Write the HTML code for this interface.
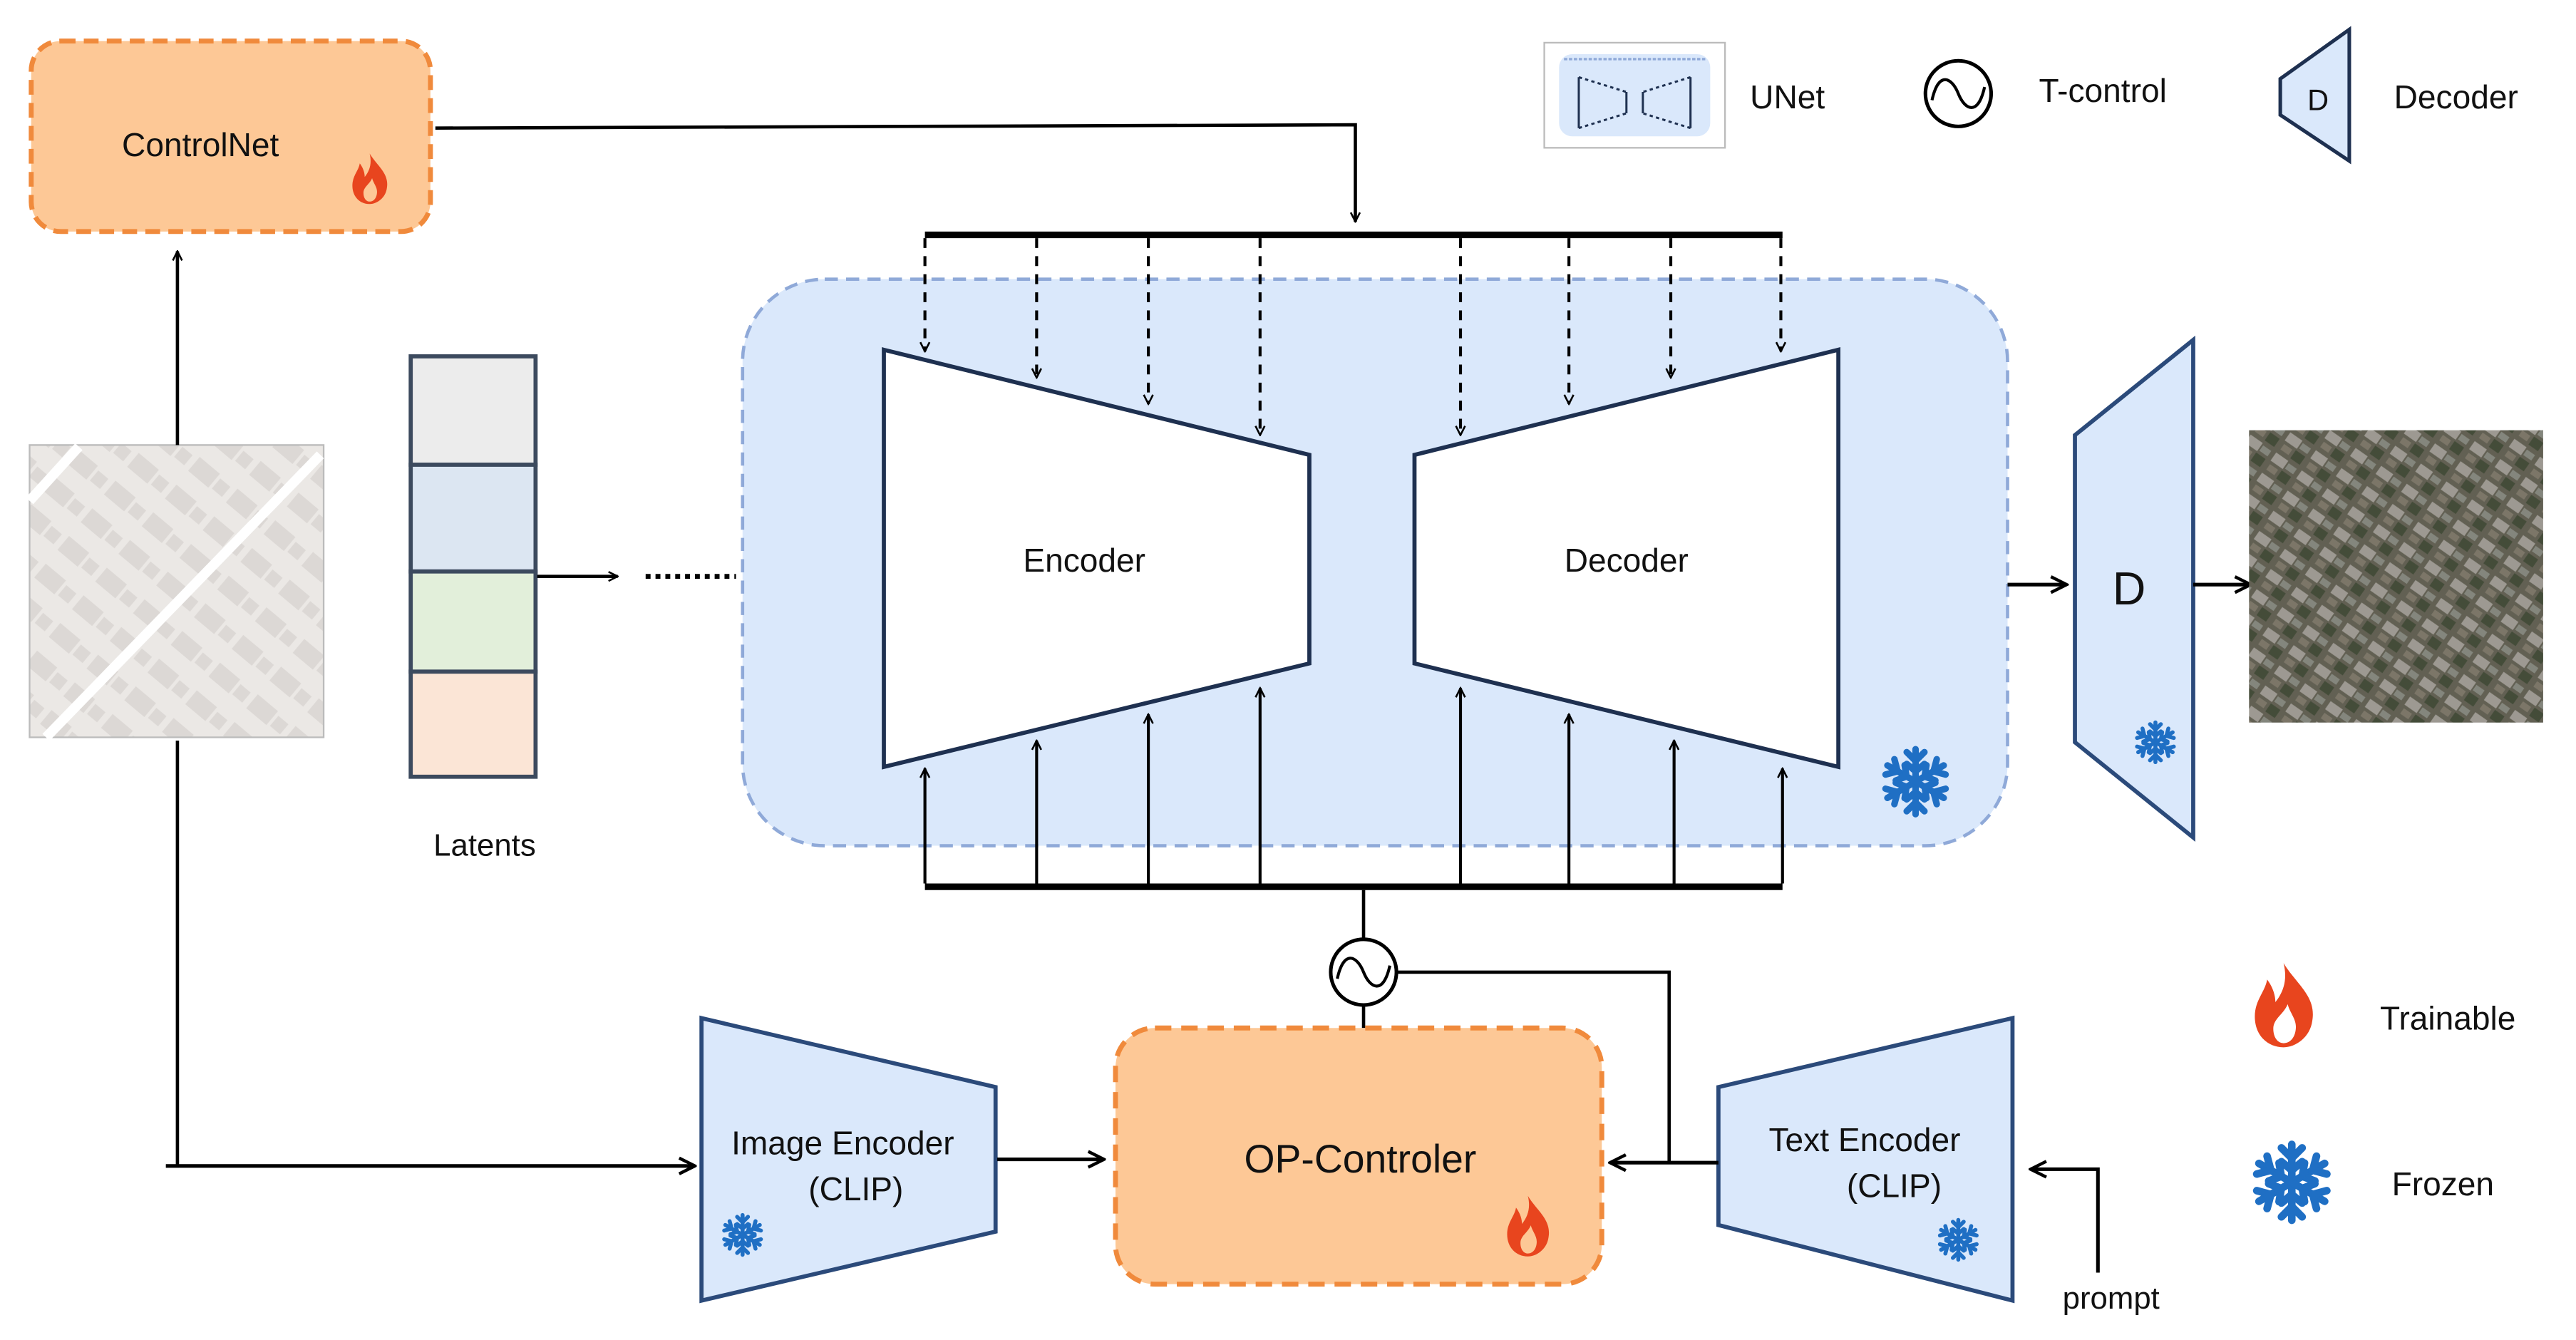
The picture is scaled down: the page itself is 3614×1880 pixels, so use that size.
<!DOCTYPE html>
<html><head><meta charset="utf-8"><style>
html,body{margin:0;padding:0;background:#fff;}
svg{display:block;}
text{font-family:"Liberation Sans",sans-serif;fill:#111;}
</style></head><body>
<svg width="3614" height="1880" viewBox="0 0 1568 816" preserveAspectRatio="none" xmlns="http://www.w3.org/2000/svg">
<defs>
<marker id="ah" viewBox="0 0 10 10" refX="9" refY="5" markerWidth="7" markerHeight="7" orient="auto-start-reverse" markerUnits="userSpaceOnUse">
<path d="M1,1 L9,5 L1,9" fill="none" stroke="#000" stroke-width="1.6"/></marker>
<marker id="ah2" viewBox="0 0 10 10" refX="9" refY="5" markerWidth="12" markerHeight="12" orient="auto" markerUnits="userSpaceOnUse">
<path d="M1,1 L9,5 L1,9" fill="none" stroke="#000" stroke-width="1.6"/></marker>
<pattern id="bld" width="30" height="22" patternUnits="userSpaceOnUse" patternTransform="rotate(40)">
<rect width="30" height="22" fill="#ebe8e5"/>
<rect x="2" y="3" width="16" height="11" fill="#dcd8d5"/>
<rect x="20" y="5" width="8" height="8" fill="#dcd8d5"/>
</pattern>
<pattern id="aer" width="19" height="15" patternUnits="userSpaceOnUse" patternTransform="rotate(35)">
<rect width="19" height="15" fill="#5f5e52"/>
<rect x="1" y="1" width="9" height="6" fill="#a9a6a0"/>
<rect x="11" y="2" width="6" height="4" fill="#8a8e86"/>
<rect x="10" y="8" width="7" height="6" fill="#3a4531"/>
<rect x="2" y="9" width="6" height="4" fill="#807a6c"/>
</pattern>
<g id="snow" stroke="#1f6fc4" stroke-width="2.2" fill="none" stroke-linecap="round">
<g id="arm"><line x1="0" y1="-11" x2="0" y2="11"/><path d="M-3,-10 L0,-7 L3,-10 M-3,10 L0,7 L3,10 M-3,-6 L0,-3.5 L3,-6 M-3,6 L0,3.5 L3,6"/></g>
<use href="#arm" transform="rotate(60)"/><use href="#arm" transform="rotate(120)"/>
</g>
<path id="flame" d="M0,-22 C6,-12 16,-6 14,6 C13,14 6,19 0,19 C-8,19 -14,13 -14,4 C-14,-4 -9,-8 -8,-14 C-5,-10 -4,-6 -4,-3 C0,-8 2,-14 0,-22 Z M0,17 C4,17 6,13 6,9 C6,5 3,2 2,-2 C0,3 -5,5 -5,10 C-5,14 -3,17 0,17 Z" fill="#e8451e" fill-rule="evenodd"/>
</defs>

<!-- ControlNet -->
<rect x="19" y="25" width="243" height="116" rx="18" fill="#fdc896" stroke="#f08a3c" stroke-width="3" stroke-dasharray="9,5"/>
<text x="122" y="95" font-size="20" text-anchor="middle">ControlNet</text>
<use href="#flame" transform="translate(225,110) scale(0.75)"/>
<polyline points="265,78 825,76 825,135" fill="none" stroke="#000" stroke-width="2" marker-end="url(#ah)"/>

<!-- UNet region -->
<rect x="452" y="170" width="770" height="345" rx="50" fill="#dae8fb" stroke="#8fa9d8" stroke-width="2" stroke-dasharray="8,5"/>
<polygon points="538,213 797,277 797,404 538,467" fill="#fff" stroke="#1e3050" stroke-width="2.5"/>
<polygon points="861,277 1119,213 1119,467 861,404" fill="#fff" stroke="#1e3050" stroke-width="2.5"/>
<text x="660" y="348" font-size="20" text-anchor="middle">Encoder</text>
<text x="990" y="348" font-size="20" text-anchor="middle">Decoder</text>
<use href="#snow" transform="translate(1166,476) scale(1.8)"/>

<line x1="563" y1="143" x2="1085" y2="143" stroke="#000" stroke-width="4"/>
<g stroke="#000" stroke-width="1.8" stroke-dasharray="6,5" fill="none">
<line x1="563" y1="145" x2="563" y2="214" marker-end="url(#ah)"/>
<line x1="631" y1="145" x2="631" y2="230" marker-end="url(#ah)"/>
<line x1="699" y1="145" x2="699" y2="246" marker-end="url(#ah)"/>
<line x1="767" y1="145" x2="767" y2="265" marker-end="url(#ah)"/>
<line x1="889" y1="145" x2="889" y2="265" marker-end="url(#ah)"/>
<line x1="955" y1="145" x2="955" y2="246" marker-end="url(#ah)"/>
<line x1="1017" y1="145" x2="1017" y2="230" marker-end="url(#ah)"/>
<line x1="1084" y1="145" x2="1084" y2="214" marker-end="url(#ah)"/>
</g>
<line x1="563" y1="540" x2="1085" y2="540" stroke="#000" stroke-width="4"/>
<g stroke="#000" stroke-width="1.8" fill="none">
<line x1="563" y1="538" x2="563" y2="468" marker-end="url(#ah)"/>
<line x1="631" y1="538" x2="631" y2="451" marker-end="url(#ah)"/>
<line x1="699" y1="538" x2="699" y2="435" marker-end="url(#ah)"/>
<line x1="767" y1="538" x2="767" y2="419" marker-end="url(#ah)"/>
<line x1="889" y1="538" x2="889" y2="419" marker-end="url(#ah)"/>
<line x1="955" y1="538" x2="955" y2="435" marker-end="url(#ah)"/>
<line x1="1019" y1="538" x2="1019" y2="451" marker-end="url(#ah)"/>
<line x1="1085" y1="538" x2="1085" y2="468" marker-end="url(#ah)"/>
</g>

<!-- T-control -->
<line x1="830" y1="542" x2="830" y2="572" stroke="#000" stroke-width="2"/>
<line x1="830" y1="612" x2="830" y2="626" stroke="#000" stroke-width="2"/>
<circle cx="830" cy="592" r="20" fill="#fff" stroke="#000" stroke-width="2.2"/>
<path d="M814,596 C818,578 826,582 830,592 C834,602 842,606 846,588" fill="none" stroke="#000" stroke-width="1.8"/>
<polyline points="850,592 1016,592 1016,708" fill="none" stroke="#000" stroke-width="2"/>

<!-- Latents -->
<g stroke="#3c4a5e" stroke-width="2.5">
<rect x="250" y="217" width="76" height="66" fill="#ececec"/>
<rect x="250" y="283" width="76" height="65" fill="#dce6f2"/>
<rect x="250" y="348" width="76" height="61" fill="#e2efda"/>
<rect x="250" y="409" width="76" height="64" fill="#fbe5d6"/>
</g>
<text x="295" y="521" font-size="19" text-anchor="middle">Latents</text>
<line x1="327" y1="351" x2="376" y2="351" stroke="#000" stroke-width="2" marker-end="url(#ah)"/>
<line x1="393" y1="351" x2="448" y2="351" stroke="#000" stroke-width="3" stroke-dasharray="3,3"/>

<!-- Map -->
<rect x="18" y="271" width="179" height="178" fill="url(#bld)" stroke="#bbb" stroke-width="1"/>
<line x1="28" y1="449" x2="195" y2="277" stroke="#fff" stroke-width="6"/>
<line x1="18" y1="305" x2="48" y2="272" stroke="#fff" stroke-width="6"/>
<line x1="108" y1="271" x2="108" y2="153" stroke="#000" stroke-width="2" marker-end="url(#ah)"/>
<polyline points="108,451 108,710 101,710" fill="none" stroke="#000" stroke-width="2"/>
<line x1="101" y1="710" x2="423" y2="710" stroke="#000" stroke-width="2.2" marker-end="url(#ah2)"/>

<!-- Image Encoder -->
<polygon points="427,620 606,662 606,750 427,792" fill="#dae8fb" stroke="#2b4a7a" stroke-width="2.5"/>
<text x="513" y="703" font-size="20" text-anchor="middle">Image Encoder</text>
<text x="521" y="731" font-size="20" text-anchor="middle">(CLIP)</text>
<use href="#snow" transform="translate(452,752) scale(1.1)"/>
<line x1="607" y1="706" x2="672" y2="706" stroke="#000" stroke-width="2.2" marker-end="url(#ah2)"/>

<!-- OP-Controler -->
<rect x="679" y="626" width="296" height="156" rx="24" fill="#fdc896" stroke="#f08a3c" stroke-width="3" stroke-dasharray="10,6"/>
<text x="828" y="714" font-size="24" text-anchor="middle">OP-Controler</text>
<use href="#flame" transform="translate(930,748) scale(0.9)"/>

<!-- Text Encoder -->
<polygon points="1046,662 1225,620 1225,792 1046,746" fill="#dae8fb" stroke="#2b4a7a" stroke-width="2.5"/>
<text x="1135" y="701" font-size="20" text-anchor="middle">Text Encoder</text>
<text x="1153" y="729" font-size="20" text-anchor="middle">(CLIP)</text>
<use href="#snow" transform="translate(1192,755) scale(1.1)"/>
<line x1="1046" y1="708" x2="980" y2="708" stroke="#000" stroke-width="2.2" marker-end="url(#ah2)"/>
<polyline points="1277,775 1277,712 1236,712" fill="none" stroke="#000" stroke-width="2.2" marker-end="url(#ah2)"/>
<text x="1285" y="797" font-size="19" text-anchor="middle">prompt</text>

<!-- D decoder -->
<polygon points="1263,265 1335,207 1335,510 1263,452" fill="#dae8fb" stroke="#2b4a7a" stroke-width="2.5"/>
<text x="1296" y="368" font-size="28" text-anchor="middle">D</text>
<use href="#snow" transform="translate(1312,452) scale(1.1)"/>
<line x1="1222" y1="356" x2="1258" y2="356" stroke="#000" stroke-width="2.2" marker-end="url(#ah2)"/>
<line x1="1335" y1="356" x2="1370" y2="356" stroke="#000" stroke-width="2.2" marker-end="url(#ah2)"/>

<!-- aerial -->
<rect x="1369" y="262" width="179" height="178" fill="url(#aer)"/>
<rect x="1369" y="262" width="179" height="178" fill="#6d6a5c" opacity="0.2"/>

<!-- Legend -->
<rect x="940" y="26" width="110" height="64" fill="#fff" stroke="#bbb" stroke-width="1"/>
<rect x="949" y="33" width="92" height="50" rx="8" fill="#dae8fb"/>
<line x1="952" y1="36" x2="1038" y2="36" stroke="#8fa9d8" stroke-width="1.5" stroke-dasharray="2,1"/>
<g stroke="#1e3050" stroke-width="1.3" fill="none">
<line x1="961" y1="47" x2="961" y2="78"/><line x1="990" y1="56" x2="990" y2="69"/>
<line x1="1000" y1="56" x2="1000" y2="69"/><line x1="1029" y1="47" x2="1029" y2="78"/>
<path d="M961,47 L990,56 M961,78 L990,69 M1029,47 L1000,56 M1029,78 L1000,69" stroke-dasharray="2,2"/>
</g>
<text x="1088" y="66" font-size="20" text-anchor="middle">UNet</text>
<circle cx="1192" cy="57" r="20" fill="#fff" stroke="#000" stroke-width="2.2"/>
<path d="M1176,61 C1180,43 1188,47 1192,57 C1196,67 1204,71 1208,53" fill="none" stroke="#000" stroke-width="1.8"/>
<text x="1280" y="62" font-size="20" text-anchor="middle">T-control</text>
<polygon points="1388,48 1430,18 1430,98 1388,70" fill="#dae8fb" stroke="#1e3050" stroke-width="2.2"/>
<text x="1411" y="67" font-size="18" text-anchor="middle">D</text>
<text x="1495" y="66" font-size="20" text-anchor="middle">Decoder</text>
<use href="#flame" transform="translate(1390,614) scale(1.25)"/>
<text x="1490" y="627" font-size="20" text-anchor="middle">Trainable</text>
<use href="#snow" transform="translate(1395,720) scale(2.1)"/>
<text x="1487" y="728" font-size="20" text-anchor="middle">Frozen</text>
</svg>
</body></html>
